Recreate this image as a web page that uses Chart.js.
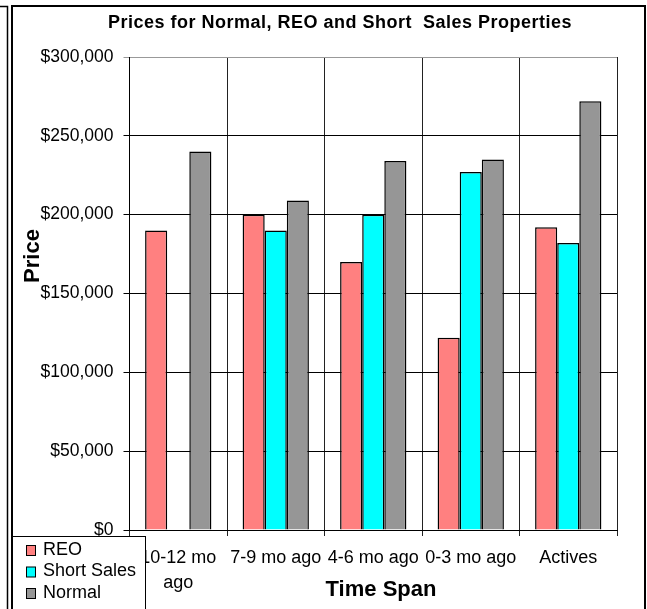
<!DOCTYPE html>
<html>
<head>
<meta charset="utf-8">
<script src="https://cdn.jsdelivr.net/npm/chart.js@4/dist/chart.umd.min.js"></script>
<style>
  body { margin: 0; background: #fff; }
  canvas { display: block; }
</style>
</head>
<body>
<canvas id="price-chart" width="647" height="609"></canvas>
<script>
const categories = [['10-12 mo', 'ago'], '7-9 mo ago', '4-6 mo ago', '0-3 mo ago', 'Actives'];
const reoPrices = [190000, 200000, 170000, 122000, 192000];
const shortSalePrices = [null, 190000, 200000, 227000, 182000];
const normalPrices = [240000, 209000, 234000, 235000, 272000];
const yTickValues = [0, 50000, 100000, 150000, 200000, 250000, 300000];

const font = 'Liberation Sans, Arial, sans-serif';

// frame, title, axis titles and the legend box are drawn by hand
const decor = {
    id: 'decor',
    beforeDraw(chart) {
        const c = chart.ctx;
        c.save();
        c.fillStyle = '#fff';
        c.fillRect(0, 0, chart.width, chart.height);
        c.strokeStyle = '#000';
        c.lineWidth = 2;
        c.strokeRect(12, 6, 633, 620);
        c.lineWidth = 1.5;
        c.beginPath();
        c.moveTo(0, 6.5); c.lineTo(7.5, 6.5); c.lineTo(7.5, 609);
        c.stroke();
        c.restore();
    },
    afterDraw(chart) {
        const c = chart.ctx;
        c.save();
        c.fillStyle = '#000';
        c.textAlign = 'center';
        c.textBaseline = 'middle';
        c.font = 'bold 18px ' + font;
        c.letterSpacing = '0.5px';
        c.fillText('Prices for Normal, REO and Short  Sales Properties', 340, 23);
        c.letterSpacing = '0px';
        c.font = 'bold 22px ' + font;
        c.fillText('Time Span', 381, 590);
        c.translate(33, 256);
        c.rotate(-Math.PI / 2);
        c.fillText('Price', 0, 0);
        c.restore();

        // legend
        c.save();
        c.fillStyle = '#fff';
        c.fillRect(12.5, 536.5, 133, 80);
        c.strokeStyle = '#000';
        c.lineWidth = 1;
        c.strokeRect(12.5, 536.5, 133, 80);
        c.font = '18px ' + font;
        c.textAlign = 'left';
        c.textBaseline = 'middle';
        chart.data.datasets.forEach((ds, i) => {
            const y = 550 + i * 21.5;
            c.fillStyle = ds.backgroundColor;
            c.fillRect(26.5, y - 4.5, 9, 10);
            c.strokeRect(26.5, y - 4.5, 9, 10);
            c.fillStyle = '#000';
            c.fillText(ds.label, 43, y);
        });
        c.restore();
    }
};

new Chart(document.getElementById('price-chart').getContext('2d'), {
    type: 'bar',
    data: {
        labels: categories,
        datasets: [
            { label: 'REO', data: reoPrices, backgroundColor: '#FF8080' },
            { label: 'Short Sales', data: shortSalePrices, backgroundColor: '#00FFFF' },
            { label: 'Normal', data: normalPrices, backgroundColor: '#969696' }
        ]
    },
    options: {
        responsive: false,
        animation: false,
        layout: { padding: { top: 57, left: 12, right: 30, bottom: 0 } },
        datasets: {
            bar: {
                borderColor: '#000',
                borderWidth: 1.5,
                categoryPercentage: 0.68,
                barPercentage: 1
            }
        },
        plugins: {
            legend: { display: false },
            title: { display: false },
            tooltip: { enabled: false }
        },
        scales: {
            x: {
                afterFit: s => { s.height = 79; },
                grid: {
                    offset: true,
                    color: ctx => ctx.index === categories.length ? '#999' : '#222',
                    lineWidth: 1,
                    tickLength: 6
                },
                border: { color: '#000', width: 1 },
                ticks: {
                    color: '#000',
                    font: { family: font, size: 18, lineHeight: 1.4 },
                    padding: 9,
                    maxRotation: 0
                }
            },
            y: {
                min: 0,
                max: 300000,
                afterFit: s => { s.width = 117.5; },
                afterBuildTicks: s => { s.ticks = yTickValues.map(v => ({ value: v })); },
                grid: {
                    color: ctx => ctx.tick && ctx.tick.value === 300000 ? '#999' : '#000',
                    lineWidth: 1,
                    tickLength: 6
                },
                border: { color: '#000', width: 1 },
                ticks: {
                    color: '#000',
                    font: { family: font, size: 17.5 },
                    padding: 10,
                    callback: v => '$' + v.toLocaleString('en-US')
                }
            }
        }
    },
    plugins: [decor]
});
</script>
</body>
</html>
